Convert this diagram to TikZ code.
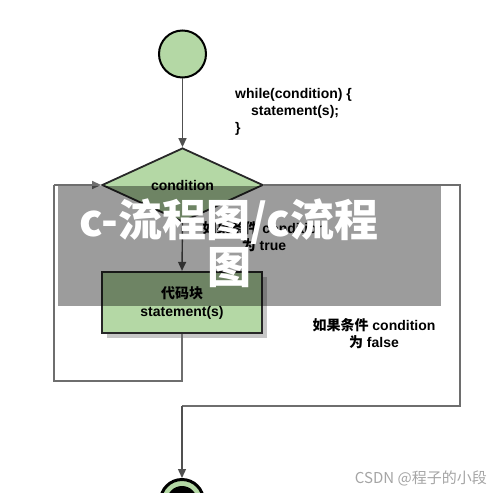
\documentclass[tikz,border=0pt]{standalone}
\usepackage{fontspec}
\setmainfont{Liberation Sans}
\newfontfamily\cjk{Noto Sans CJK SC}
\usetikzlibrary{shapes.geometric,arrows.meta}
\definecolor{lgreen}{RGB}{180,216,165}
\definecolor{edgedark}{RGB}{40,40,40}
\definecolor{conn}{RGB}{80,80,80}
\definecolor{loopc}{RGB}{110,110,110}
\definecolor{wm}{RGB}{165,165,165}
\tikzset{
  lbl/.style={font=\fontsize{14}{17}\selectfont\bfseries, align=center, inner sep=0pt},
  arr/.style={-{Triangle[width=8pt,length=9pt]}},
  connline/.style={draw=conn, line width=1.4pt},
  loopline/.style={draw=loopc, line width=1.4pt},
}
\begin{document}
\begin{tikzpicture}[x=1pt,y=-1pt]
\useasboundingbox (0,0) rectangle (500,492);
\clip (0,0) rectangle (500,492);
\fill[white] (0,0) rectangle (500,492);

% start circle
\node[circle, draw=black, line width=2pt, fill=lgreen, minimum size=47pt, inner sep=0pt] (start) at (182.5,54) {};

% code text
\node[lbl, align=left, anchor=north west] (code) at (235,88)
  {while(condition) \{\\\hspace*{16pt}statement(s);\\\}};

% diamond
\node[diamond, draw=edgedark, line width=1.8pt, fill=lgreen, minimum width=161pt, minimum height=74pt, inner sep=0pt, lbl] (cond) at (182.5,185) {condition};

% block shadow and block
\fill[black!22] (107,277) rectangle (267,338);
\node[rectangle, draw=edgedark, line width=2.2pt, fill=lgreen, minimum width=160pt, minimum height=61pt, inner sep=0pt, lbl, font=\fontsize{14}{18}\selectfont\bfseries] (block) at (182,302.5) {{\cjk 代码块}\\statement(s)};

% end circle
\node[circle, draw=black, line width=3pt, fill=lgreen, minimum size=43pt, inner sep=0pt] (end) at (182,501) {};
\fill[black] (end.center) circle (15pt);

% coordinates for loop corners
\coordinate (lb) at (54,381);
\coordinate (lt) at (54,185);
\coordinate (rt) at (460,185);
\coordinate (rb) at (460,406);
\coordinate (mb) at (182,406);

% connectors
\draw[connline, arr] (start) -- (cond.north);
\draw[connline, arr] (cond.south) -- (block.north);
\draw[loopline] (block.south) |- (lb) -- (lt);
\draw[loopline, arr] (lt) -- (cond.west);
\draw[loopline] (cond.east) -- (rt) -- (rb) -- (mb);
\draw[connline, arr] (mb) -- (end.north);

% labels
\node[lbl] (truelbl) at (264,236.5) {{\cjk 如果条件} condition\\{\cjk 为} true};
\node[lbl] (falselbl) at (374,333.5) {{\cjk 如果条件} condition\\{\cjk 为} false};

% overlay banner
\fill[black, opacity=0.39] (58,186) rectangle (441,306);
\node[font=\cjk\bfseries\fontsize{44}{47}\selectfont, text=white, align=center, inner sep=0pt] (banner) at (229,243) {c-流程图/c流程\\图};

% watermark
\node[font=\cjk\fontsize{15}{18}\selectfont, text=wm, anchor=east, inner sep=0pt] (wmark) at (487,478) {CSDN @程子的小段};
\end{tikzpicture}
\end{document}
